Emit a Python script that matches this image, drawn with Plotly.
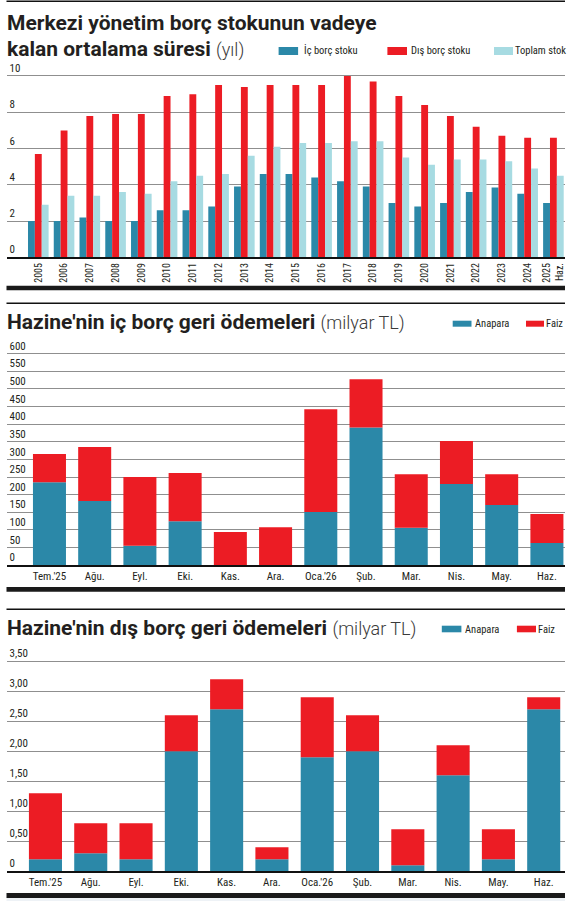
import plotly.graph_objects as go

# --- data ---
years = ["2005", "2006", "2007", "2008", "2009", "2010", "2011", "2012", "2013", "2014",
         "2015", "2016", "2017", "2018", "2019", "2020", "2021", "2022", "2023", "2024", "2025"]
year_labels = years[:-1] + ["2025<br>Haz."]
ic_borc = [2.0, 2.0, 2.2, 2.0, 2.0, 2.6, 2.6, 2.8, 3.9, 4.6, 4.6, 4.4, 4.2, 3.9, 3.0, 2.8, 3.0, 3.6, 3.85, 3.5, 3.0]
dis_borc = [5.7, 7.0, 7.8, 7.9, 7.9, 8.9, 9.0, 9.5, 9.4, 9.5, 9.5, 9.5, 10.0, 9.7, 8.9, 8.4, 7.8, 7.2, 6.7, 6.6, 6.6]
toplam = [2.9, 3.4, 3.4, 3.6, 3.5, 4.2, 4.5, 4.6, 5.6, 6.1, 6.3, 6.3, 6.4, 6.4, 5.5, 5.1, 5.4, 5.4, 5.3, 4.9, 4.5]
top_names = ["İç borç stoku", "Dış borç stoku", "Toplam stok"]
top_ticks = [0, 2, 4, 6, 8, 10]

months = ["Tem.'25", "Ağu.", "Eyl.", "Eki.", "Kas.", "Ara.", "Oca.'26", "Şub.", "Mar.", "Nis.", "May.", "Haz."]
ic_anapara = [235, 182, 55, 125, 0, 0, 151, 390, 106, 230, 171, 63]
ic_faiz = [80, 153, 195, 136, 94, 108, 291, 137, 152, 122, 87, 82]
dis_anapara = [0.2, 0.3, 0.2, 2.0, 2.7, 0.2, 1.9, 2.0, 0.1, 1.6, 0.2, 2.7]
dis_faiz = [1.1, 0.5, 0.6, 0.6, 0.5, 0.2, 1.0, 0.6, 0.6, 0.5, 0.5, 0.2]
pay_names = ["Anapara", "Faiz"]

ic_ticks = list(range(0, 601, 50))
dis_ticks = [0, 0.5, 1.0, 1.5, 2.0, 2.5, 3.0, 3.5]
dis_ticktext = ["0", "0,50", "1,00", "1,50", "2,00", "2,50", "3,00", "3,50"]

TEAL = "#2b88a8"
RED = "#ec1c24"
LIGHT = "#a7dbe2"
INK = "#231f20"
GRID = "#8f8f8f"
COND = "Roboto Condensed, Liberation Sans Narrow, DejaVu Sans Condensed, Arial Narrow, Roboto, sans-serif"
HEAD = "Roboto, Liberation Sans, sans-serif"

W, H = 570, 901


def py(pix):
    # pixel row -> paper y
    return 1 - pix / H


def px(pix):
    return pix / W


fig = go.Figure()

# top chart: grouped bars
for vals, name, col in zip([ic_borc, dis_borc, toplam], top_names, [TEAL, RED, LIGHT]):
    fig.add_trace(go.Bar(x=years, y=vals, name=name, marker_color=col, marker_line_width=0,
                         xaxis="x", yaxis="y", showlegend=False))

# middle chart: stacked via base
fig.add_trace(go.Bar(x=months, y=ic_anapara, name=pay_names[0], marker_color=TEAL, marker_line_width=0,
                     offsetgroup="a", width=0.73, xaxis="x2", yaxis="y2", showlegend=False))
fig.add_trace(go.Bar(x=months, y=ic_faiz, base=ic_anapara, name=pay_names[1], marker_color=RED,
                     marker_line_width=0, offsetgroup="a", width=0.73, xaxis="x2", yaxis="y2",
                     showlegend=False))

# bottom chart
fig.add_trace(go.Bar(x=months, y=dis_anapara, name=pay_names[0], marker_color=TEAL, marker_line_width=0,
                     offsetgroup="b", width=0.73, xaxis="x3", yaxis="y3", showlegend=False))
fig.add_trace(go.Bar(x=months, y=dis_faiz, base=dis_anapara, name=pay_names[1], marker_color=RED,
                     marker_line_width=0, offsetgroup="b", width=0.73, xaxis="x3", yaxis="y3",
                     showlegend=False))

xdom = [px(6.5), px(565)]
xcommon = dict(domain=xdom, showline=True, linecolor="#111111", linewidth=1.5, ticks="",
               showgrid=False, zeroline=False, tickfont=dict(family=COND, size=11, color=INK))
ycommon = dict(showline=False, showgrid=True, gridcolor=GRID, gridwidth=1, zeroline=False,
               ticks="", ticklabelposition="inside top", tickfont=dict(family=COND, size=11, color=INK))

# ranges run a bit past the top gridline so the top tick label is kept
fig.update_layout(
    width=W, height=H,
    margin=dict(l=0, r=0, t=0, b=0),
    paper_bgcolor="white", plot_bgcolor="white",
    barmode="group", bargap=0.2, bargroupgap=0,
    xaxis=dict(xcommon, anchor="y", range=[-1.235, 20.45], tickangle=-90,
               tickvals=years, ticktext=year_labels, tickfont=dict(family=COND, size=10, color=INK)),
    yaxis=dict(ycommon, anchor="x", domain=[py(257.3), py(257.3 - 10.8 * 18.13)], range=[0, 10.8],
               tickvals=top_ticks),
    xaxis2=dict(xcommon, anchor="y2", range=[-0.95, 11.4]),
    yaxis2=dict(ycommon, anchor="x2", domain=[py(565.3), py(565.3 - 640 * 0.3532)], range=[0, 640],
                tickvals=ic_ticks),
    xaxis3=dict(xcommon, anchor="y3", range=[-0.86, 11.47]),
    yaxis3=dict(ycommon, anchor="x3", domain=[py(871.3), py(871.3 - 3.75 * 60)], range=[0, 3.75],
                tickvals=dis_ticks, ticktext=dis_ticktext),
)

shapes = []
# separators: thin rules above each title, thick bars under each chart
for y in [1.2, 303.3, 609.3]:
    shapes.append(dict(type="line", xref="paper", yref="paper", x0=px(6.5), x1=px(565),
                       y0=py(y), y1=py(y), line=dict(color="#111111", width=1.5)))
for y0, y1 in [(285.7, 290.3), (586.9, 591.7), (893.0, 898.0)]:
    shapes.append(dict(type="rect", xref="paper", yref="paper", x0=px(6.5), x1=px(565),
                       y0=py(y1), y1=py(y0), fillcolor="#1a1a1a", line_width=0))
shapes.append(dict(type="rect", xref="paper", yref="paper", x0=px(6.5), x1=px(565),
                   y0=0, y1=py(898.0), fillcolor="#eef2f6", line_width=0))

annotations = []


def legend_item(x0, x1, y0, y1, col, text, tx):
    shapes.append(dict(type="rect", xref="paper", yref="paper", x0=px(x0), x1=px(x1),
                       y0=py(y1), y1=py(y0), fillcolor=col, line_width=0))
    annotations.append(dict(text=text, xref="paper", yref="paper", x=px(tx), y=py((y0 + y1) / 2),
                            xanchor="left", yanchor="middle", showarrow=False,
                            font=dict(family=COND, size=10.5, color=INK)))


legend_item(278.6, 298.1, 47, 55, TEAL, top_names[0], 302)
legend_item(387.4, 407, 47, 55, RED, top_names[1], 408.5)
legend_item(494, 513, 47, 55, LIGHT, top_names[2], 512.5)
legend_item(452.7, 471.5, 320.7, 326.7, TEAL, pay_names[0], 473)
legend_item(526, 544, 320.7, 326.7, RED, pay_names[1], 544)
legend_item(441.8, 461.4, 625.7, 632.3, TEAL, pay_names[0], 463)
legend_item(516.9, 536, 625.7, 632.3, RED, pay_names[1], 535.5)


def title(text, y, sub=None):
    t = "<b>" + text + "</b>"
    if sub:
        t += " <span style='font-weight:300;font-size:18px;color:#3a3a3a'>" + sub + "</span>"
    annotations.append(dict(text=t, xref="paper", yref="paper", x=px(5), y=py(y),
                            xanchor="left", yanchor="middle", showarrow=False,
                            font=dict(family=HEAD, size=21, color=INK)))


title("Merkezi yönetim borç stokunun vadeye", 22.6)
title("kalan ortalama süresi", 49.3, "(yıl)")
title("Hazine'nin iç borç geri ödemeleri", 321.6, "(milyar TL)")
title("Hazine'nin dış borç geri ödemeleri", 627.6, "(milyar TL)")

fig.update_layout(shapes=shapes, annotations=annotations)

# the page body has a default 8px margin; drop it so the figure sits at the window corner
fig.write_html("out.html", config={"displayModeBar": False},
               post_script="document.body.style.margin='0';")
